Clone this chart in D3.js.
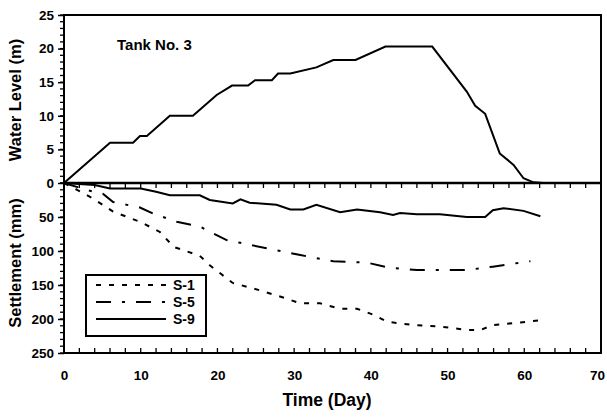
<!DOCTYPE html>
<html>
<head>
<meta charset="utf-8">
<script src="https://cdn.jsdelivr.net/npm/d3@7"></script>
<style>
  body { margin: 0; background: #fff; }
  svg { font-family: "Liberation Sans", Arial, sans-serif; font-weight: bold; }
</style>
</head>
<body>
<svg width="607" height="417"></svg>
<script>
// water level in tank (m) vs day
const levelDays = [0, 6, 9, 9.9, 10.8, 13.8, 16.8, 17.7, 19.9, 21.9, 24, 24.9, 27.1, 27.9, 29.5, 32.9, 35.1, 38, 41.9, 48, 52.5, 53.6, 54.9, 56.8, 58.6, 59.9, 61.2, 62.5];
const levelVals = [0, 6, 6, 7, 7, 10, 10, 10.9, 13.1, 14.5, 14.5, 15.3, 15.3, 16.3, 16.3, 17.2, 18.3, 18.3, 20.3, 20.3, 13.6, 11.5, 10.3, 4.4, 2.7, 0.7, 0.1, 0];

// settlements (mm)
const s1Days = [0, 1.7, 3.8, 6.4, 9.9, 12.5, 14.3, 17.7, 19, 22, 25.6, 29, 30.8, 33.4, 36, 38.2, 40.4, 42.1, 45.6, 49, 52.5, 54.3, 55.9, 59.5, 61.9];
const s1Vals = [0, 10, 23, 42, 57, 72, 94, 107, 121, 147, 158, 170, 177, 177, 185, 185, 194, 204, 209, 211, 216, 216, 209, 205, 202];

const s5Days = [0, 3.2, 5.1, 6.4, 9.9, 11.6, 14.7, 17.7, 21.2, 23, 26.4, 30.8, 35.1, 39.5, 42.1, 46, 52.5, 55.9, 60.8];
const s5Vals = [0, 11, 16, 28, 36, 45, 57, 64, 84, 88, 96, 106, 115, 117, 124, 128, 128, 123, 115];

const s9Days = [0, 4, 6, 10, 12, 13.8, 17.7, 19, 22, 23, 24.2, 27.7, 29.5, 31.2, 32.9, 36, 38.2, 41.2, 42.9, 43.8, 46, 49, 52.5, 54.9, 55.9, 57.3, 59.9, 62.1];
const s9Vals = [0, 3, 8, 8, 13, 18, 18, 25, 30, 24, 29, 32, 39, 39, 32, 43, 39, 43, 47, 44, 46, 46, 50, 50, 40, 37, 41, 49];

const seriesNames = ["S-1", "S-5", "S-9"];
const xTicks = [0, 10, 20, 30, 40, 50, 60, 70];
const levelTicks = [0, 5, 10, 15, 20, 25];
const settleTicks = [50, 100, 150, 200, 250];

const svg = d3.select("svg");
const pLeft = 64, pRight = 601, pTop = 15, pMid = 183, pBottom = 353;

const x = d3.scaleLinear().domain([0, 70]).range([pLeft, pRight]);
const yTop = d3.scaleLinear().domain([0, 25]).range([pMid, pTop]);
const yBot = d3.scaleLinear().domain([0, 250]).range([pMid, pBottom]);

const dashes = { "S-1": "5,8", "S-5": "15,11,3,11", "S-9": null };

// minor ticks
const g = svg.append("g").attr("stroke", "#000").attr("stroke-width", 1.3);
d3.range(0, 26, 1).forEach(v => {
  g.append("line").attr("x1", pLeft - 4).attr("x2", pLeft).attr("y1", yTop(v)).attr("y2", yTop(v));
});
d3.range(0, 251, 10).forEach(v => {
  g.append("line").attr("x1", pLeft - 4).attr("x2", pLeft).attr("y1", yBot(v)).attr("y2", yBot(v));
});
d3.range(2, 70, 2).forEach(v => {
  g.append("line").attr("x1", x(v)).attr("x2", x(v)).attr("y1", pBottom).attr("y2", pBottom - 5);
  g.append("line").attr("x1", x(v)).attr("x2", x(v)).attr("y1", pMid).attr("y2", pMid + 5);
});

// axes labels via d3 axes
const axL1 = svg.append("g").attr("transform", `translate(${pLeft},0)`)
  .call(d3.axisLeft(yTop).tickValues(levelTicks).tickSize(6).tickPadding(4));
const axL2 = svg.append("g").attr("transform", `translate(${pLeft},0)`)
  .call(d3.axisLeft(yBot).tickValues(settleTicks).tickSize(6).tickPadding(4));
const axB = svg.append("g").attr("transform", `translate(0,${pBottom})`)
  .call(d3.axisBottom(x).tickValues(xTicks).tickSize(0).tickPadding(17));
[axL1, axL2, axB].forEach(a => {
  a.select(".domain").remove();
  a.selectAll("text").attr("font-size", 13.5).attr("font-weight", "bold").attr("fill", "#000")
    .attr("font-family", "Liberation Sans, Arial, sans-serif");
  a.selectAll("line").attr("stroke-width", 1.5);
});
// last label sits at the page edge
axB.selectAll("text").filter(d => d === 70).attr("dx", -4);

// frame
svg.append("rect").attr("x", pLeft).attr("y", pTop).attr("width", pRight - pLeft).attr("height", pBottom - pTop)
  .attr("fill", "none").attr("stroke", "#000").attr("stroke-width", 2);
svg.append("line").attr("x1", pLeft).attr("x2", pRight).attr("y1", pMid).attr("y2", pMid)
  .attr("stroke", "#000").attr("stroke-width", 2.5);

// water level line
const lineTop = d3.line().x(d => x(d[0])).y(d => yTop(d[1]));
svg.append("path").datum(d3.zip(levelDays, levelVals)).attr("d", lineTop)
  .attr("fill", "none").attr("stroke", "#000").attr("stroke-width", 2);

// settlement lines
const lineBot = d3.line().x(d => x(d[0])).y(d => yBot(d[1]));
const settle = [[s1Days, s1Vals], [s5Days, s5Vals], [s9Days, s9Vals]];
settle.forEach((s, i) => {
  svg.append("path").datum(d3.zip(s[0], s[1])).attr("d", lineBot)
    .attr("fill", "none").attr("stroke", "#000").attr("stroke-width", 2)
    .attr("stroke-dasharray", dashes[seriesNames[i]]);
});

// legend
const lg = svg.append("g");
lg.append("rect").attr("x", 86).attr("y", 275).attr("width", 120).attr("height", 61)
  .attr("fill", "#fff").attr("stroke", "#000").attr("stroke-width", 2);
seriesNames.forEach((n, i) => {
  const yy = 285 + i * 17;
  lg.append("line").attr("x1", 96).attr("x2", 166).attr("y1", yy).attr("y2", yy)
    .attr("stroke", "#000").attr("stroke-width", 2).attr("stroke-dasharray", dashes[n]);
  lg.append("text").attr("x", 173).attr("y", yy + 5).attr("font-size", 14).text(n);
});

// titles
svg.append("text").attr("x", 117).attr("y", 50).attr("font-size", 15).text("Tank No. 3");
svg.append("text").attr("x", 327).attr("y", 406).attr("text-anchor", "middle")
  .attr("font-size", 17.5).text("Time (Day)");
svg.append("text").attr("transform", "translate(21,100) rotate(-90)").attr("text-anchor", "middle")
  .attr("font-size", 16.5).text("Water Level (m)");
svg.append("text").attr("transform", "translate(21,263) rotate(-90)").attr("text-anchor", "middle")
  .attr("font-size", 16.5).text("Settlement (mm)");
</script>
</body>
</html>
